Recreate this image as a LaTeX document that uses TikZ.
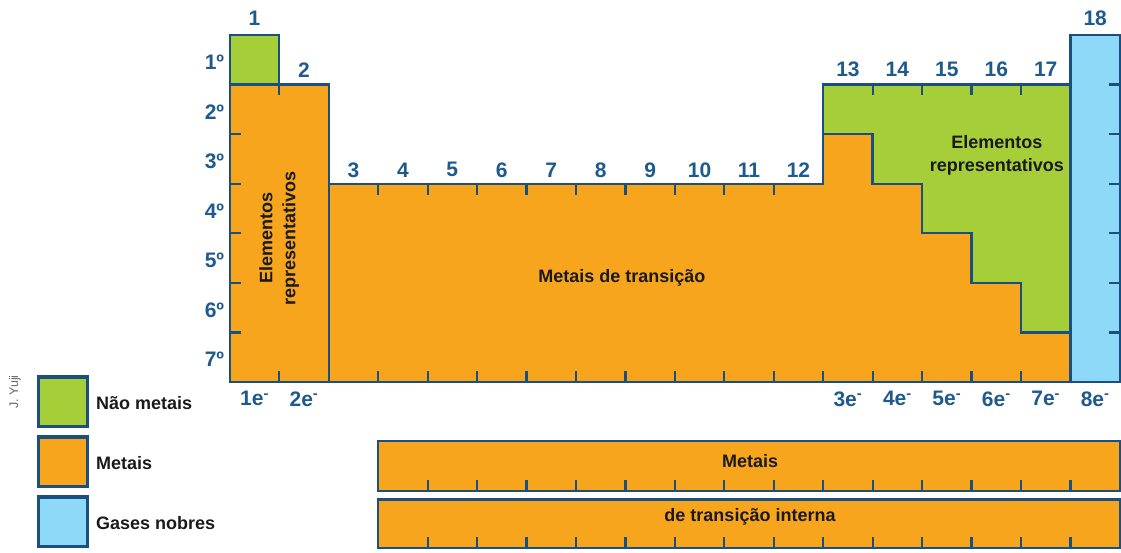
\documentclass[tikz,border=0pt]{standalone}
\usepackage{fontspec}
\setmainfont{Liberation Sans}
\definecolor{bd}{HTML}{1B4F80}
\definecolor{lb}{HTML}{1F5A8E}
\definecolor{gr}{HTML}{A6CE39}
\definecolor{orng}{HTML}{F7A51D}
\definecolor{sky}{HTML}{8ED8F8}
\definecolor{txt}{HTML}{1A1A1A}
\begin{document}
\begin{tikzpicture}[x=1pt,y=-1pt,
  bline/.style={draw=bd, line width=2.4pt, line join=miter},
  tk/.style={draw=bd, line width=2.2pt},
  num/.style={text=lb, font=\fontsize{21}{24}\selectfont\bfseries, inner sep=0pt},
  lbl/.style={text=txt, font=\fontsize{18}{23}\selectfont\bfseries, inner sep=0pt, align=center},
  legbox/.style={draw=bd, line width=3.5pt}]
\useasboundingbox (0,0) rectangle (1121,552);
\begin{scope}[shift={(229.8,35)}, x=49.45pt, y=-49.57pt]
  % fills
  \fill[gr] (0,0) rectangle (1,1);
  \fill[orng] (0,1) rectangle (2,7);
  \fill[orng] (2,3) rectangle (12,7);
  \fill[gr] (12,1) -- (17,1) -- (17,6) -- (16,6) -- (16,5) -- (15,5) -- (15,4) -- (14,4) -- (14,3) -- (13,3) -- (13,2) -- (12,2) -- cycle;
  \fill[orng] (12,2) -- (13,2) -- (13,3) -- (14,3) -- (14,4) -- (15,4) -- (15,5) -- (16,5) -- (16,6) -- (17,6) -- (17,7) -- (12,7) -- cycle;
  \fill[sky] (17,0) rectangle (18,7);
  % bars
  \fill[orng] (3,8.19) rectangle (18,9.2);
  \fill[orng] (3,9.37) rectangle (18,10.35);
  % ticks
  \foreach \r in {2,...,6} \draw[tk] (0,\r) -- (0.22,\r);
  \foreach \r in {1,...,6} \draw[tk] (18,\r) -- (17.78,\r);
  \foreach \c in {1,3,4,...,16} \draw[tk] (\c,7) -- (\c,6.78);
  \draw[tk] (1,1) -- (1,1.22);
  \foreach \c in {3,...,11} \draw[tk] (\c,3) -- (\c,3.22);
  \foreach \c in {13,...,16} \draw[tk] (\c,1) -- (\c,1.22);
  \foreach \c in {4,...,17} {
    \draw[tk] (\c,9.2) -- (\c,8.98);
    \draw[tk] (\c,10.35) -- (\c,10.13);
  }
  % borders
  \draw[bline] (0,0) -- (1,0) -- (1,1) -- (2,1) -- (2,3) -- (12,3) -- (12,1) -- (17,1) -- (17,0) -- (18,0) -- (18,7) -- (0,7) -- cycle;
  \draw[bline] (0,1) -- (1,1);
  \draw[bline] (2,3) -- (2,7);
  \draw[bline] (17,0) -- (17,7);
  \draw[bline] (12,2) -- (13,2) -- (13,3) -- (14,3) -- (14,4) -- (15,4) -- (15,5) -- (16,5) -- (16,6) -- (17,6);
  \draw[bline] (3,8.19) rectangle (18,9.2);
  \draw[bline] (3,9.37) rectangle (18,10.35);
  % group numbers
  \node[num] (g1) at (0.5,-0.34) {1};
  \node[num] (g2) at (1.5,0.70) {2};
  \foreach \i in {3,...,12} \node[num] (g\i) at (\i-0.5,2.72) {\i};
  \foreach \i in {13,...,17} \node[num] (g\i) at (\i-0.5,0.70) {\i};
  \node[num] (g18) at (17.5,-0.34) {18};
  % periods
  \foreach \pp in {1,...,7} \node[num] (p\pp) at (-0.31,\pp-0.45) {\pp{}º};
  % electrons
  \foreach \c/\n in {1/1,2/2,13/3,14/4,15/5,16/6,17/7,18/8}
    \node[num] (e\n) at (\c-0.5,7.34) {\n{}e\textsuperscript{-}};
  % texts
  \node[lbl, rotate=90] (repL) at (1,4.1) {Elementos\\representativos};
  \node[lbl] (repR) at (15.51,2.42) {Elementos\\representativos};
  \node[lbl] (trans) at (7.93,4.9) {Metais de transição};
  \node[lbl] (bar1) at (10.52,8.6) {Metais};
  \node[lbl] (bar2) at (10.52,9.72) {de transição interna};
\end{scope}
% legend
\draw[legbox, fill=gr] (38.5,377) rectangle (87.5,426.5);
\draw[legbox, fill=orng] (38.5,437) rectangle (87.5,486.5);
\draw[legbox, fill=sky] (38.5,497) rectangle (87.5,546.5);
\node[lbl, anchor=west] (lg1) at (96,403) {Não metais};
\node[lbl, anchor=west] (lg2) at (96,463) {Metais};
\node[lbl, anchor=west] (lg3) at (96,523) {Gases nobres};
\node[rotate=90, text=black!60, font=\fontsize{12.5}{14}\selectfont, inner sep=0pt] (credit) at (15,392) {J. Yuji};
\end{tikzpicture}
\end{document}
